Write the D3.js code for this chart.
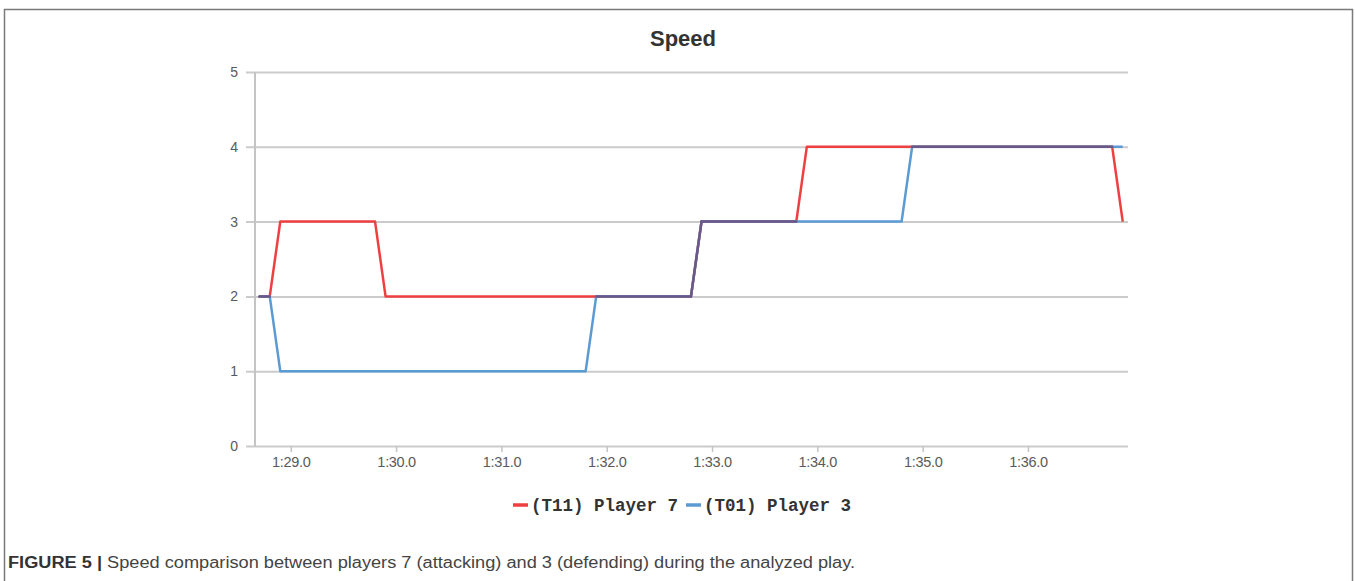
<!DOCTYPE html>
<html>
<head>
<meta charset="utf-8">
<script src="https://cdn.jsdelivr.net/npm/d3@7"></script>
<style>
  html, body { margin: 0; padding: 0; background: #fff; }
  svg { display: block; }
</style>
</head>
<body>
<script>
// ---- data (times in seconds; 1:29.0 = 89 s) ----
const redTimes  = [88.7, 88.8, 88.9, 89.8, 89.9, 92.8, 92.9, 93.8, 93.9, 96.8, 96.9];
const redValues = [2,    2,    3,    3,    2,    2,    3,    3,    4,    4,    3];
const blueTimes  = [88.7, 88.8, 88.9, 91.8, 91.9, 92.8, 92.9, 94.8, 94.9, 96.9];
const blueValues = [2,    2,    1,    1,    2,    2,    3,    3,    4,    4];
const seriesNames = ["(T11) Player 7", "(T01) Player 3"];
const xTickValues = [89, 90, 91, 92, 93, 94, 95, 96];
const xTickLabels = ["1:29.0", "1:30.0", "1:31.0", "1:32.0", "1:33.0", "1:34.0", "1:35.0", "1:36.0"];
const yTickValues = [0, 1, 2, 3, 4, 5];
const chartTitle = "Speed";
const captionBold = "FIGURE 5 |";
const captionText = " Speed comparison between players 7 (attacking) and 3 (defending) during the analyzed play.";

const W = 1355, H = 581;
const RED = "#ee3f41", BLUE = "#5b9bd3", PURPLE = "#6a5888";

const svg = d3.select("body").append("svg").attr("width", W).attr("height", H);

// frame
svg.append("path")
  .attr("d", `M4.5,${H} L4.5,9.5 L1352.5,9.5 L1352.5,${H}`)
  .attr("fill", "none").attr("stroke", "#7a7a7a").attr("stroke-width", 1.5);

const x = d3.scaleLinear().domain([88.66, 96.95]).range([255, 1128]);
const y = d3.scaleLinear().domain([0, 5]).range([446, 72]);

// gridlines + y labels
const yAxis = d3.axisLeft(y).tickValues(yTickValues).tickSize(-(1128 - 246)).tickPadding(8).tickFormat(d3.format("d"));
const gy = svg.append("g").attr("transform", "translate(246,0)").call(yAxis);
gy.select(".domain").remove();
gy.selectAll(".tick line").attr("stroke", "#cbcbcb").attr("stroke-width", 2);
gy.selectAll(".tick text").attr("font-family", "Arial, 'Liberation Sans', sans-serif")
  .attr("font-size", 14).attr("fill", "#5a5a5a");

// y axis vertical line
svg.append("line").attr("x1", 255).attr("x2", 255).attr("y1", y(5)).attr("y2", y(0))
  .attr("stroke", "#c4c4c4").attr("stroke-width", 2);

// x axis
const xAxis = d3.axisBottom(x).tickValues(xTickValues).tickSize(6).tickPadding(5)
  .tickFormat((d, i) => xTickLabels[i]);
const gx = svg.append("g").attr("transform", `translate(0,${y(0)})`).call(xAxis);
gx.select(".domain").remove();
gx.selectAll(".tick line").attr("stroke", "#c4c4c4").attr("stroke-width", 1.5);
gx.selectAll(".tick text").attr("font-family", "Arial, 'Liberation Sans', sans-serif")
  .attr("font-size", 14.5).attr("fill", "#5a5a5a").attr("letter-spacing", -0.3);

// lines
const line = d3.line().x(d => x(d[0])).y(d => y(d[1]));
const redPts = redTimes.map((t, i) => [t, redValues[i]]);
const bluePts = blueTimes.map((t, i) => [t, blueValues[i]]);
svg.append("path").attr("d", line(redPts)).attr("fill", "none").attr("stroke", RED)
  .attr("stroke-width", 2.5).attr("stroke-linejoin", "round");
svg.append("path").attr("d", line(bluePts)).attr("fill", "none").attr("stroke", BLUE)
  .attr("stroke-width", 2.5).attr("stroke-linejoin", "round");

// overlap segments (where both series coincide) drawn in the blended colour
function valAt(times, vals, t) {
  const i = d3.bisectLeft(times, t - 1e-9);
  if (i <= 0) return vals[0];
  if (i >= times.length) return vals[vals.length - 1];
  const t0 = times[i - 1], t1 = times[i];
  return vals[i - 1] + (vals[i] - vals[i - 1]) * (t - t0) / (t1 - t0);
}
const allTimes = Array.from(new Set(redTimes.concat(blueTimes))).sort((a, b) => a - b)
  .filter(t => t <= d3.min([d3.max(redTimes), d3.max(blueTimes)]));
for (let i = 0; i < allTimes.length - 1; i++) {
  const a = allTimes[i], b = allTimes[i + 1];
  const ra = valAt(redTimes, redValues, a), rb = valAt(redTimes, redValues, b);
  const ba = valAt(blueTimes, blueValues, a), bb = valAt(blueTimes, blueValues, b);
  if (Math.abs(ra - ba) < 1e-6 && Math.abs(rb - bb) < 1e-6) {
    svg.append("path").attr("d", line([[a, ra], [b, rb]])).attr("fill", "none")
      .attr("stroke", PURPLE).attr("stroke-width", 2.5).attr("stroke-linecap", "round");
  }
}

// title
svg.append("text").attr("x", 683).attr("y", 46).attr("text-anchor", "middle")
  .attr("font-family", "Arial, 'Liberation Sans', sans-serif").attr("font-weight", "bold")
  .attr("font-size", 22).attr("fill", "#333").text(chartTitle);

// legend
const legend = svg.append("g").attr("transform", "translate(0,505)");
const legendFont = "'Liberation Mono', 'Courier New', monospace";
const lg = [[513, RED, seriesNames[0]], [686, BLUE, seriesNames[1]]];
lg.forEach(([lx, c, name]) => {
  legend.append("line").attr("x1", lx).attr("x2", lx + 15).attr("y1", 0).attr("y2", 0)
    .attr("stroke", c).attr("stroke-width", 3.5);
  legend.append("text").attr("x", lx + 18).attr("y", 6).attr("font-family", legendFont)
    .attr("font-weight", "bold").attr("font-size", 17.5).attr("fill", "#333").text(name);
});

// caption
const cap = svg.append("text").attr("x", 8).attr("y", 568)
  .attr("font-family", "'Liberation Sans Narrow', 'Arial Narrow', Arial, sans-serif")
  .attr("font-size", 16).attr("fill", "#444")
  .attr("textLength", 847).attr("lengthAdjust", "spacingAndGlyphs");
cap.append("tspan").attr("font-weight", "bold").attr("fill", "#333").text(captionBold);
cap.append("tspan").text(captionText);
</script>
</body>
</html>
